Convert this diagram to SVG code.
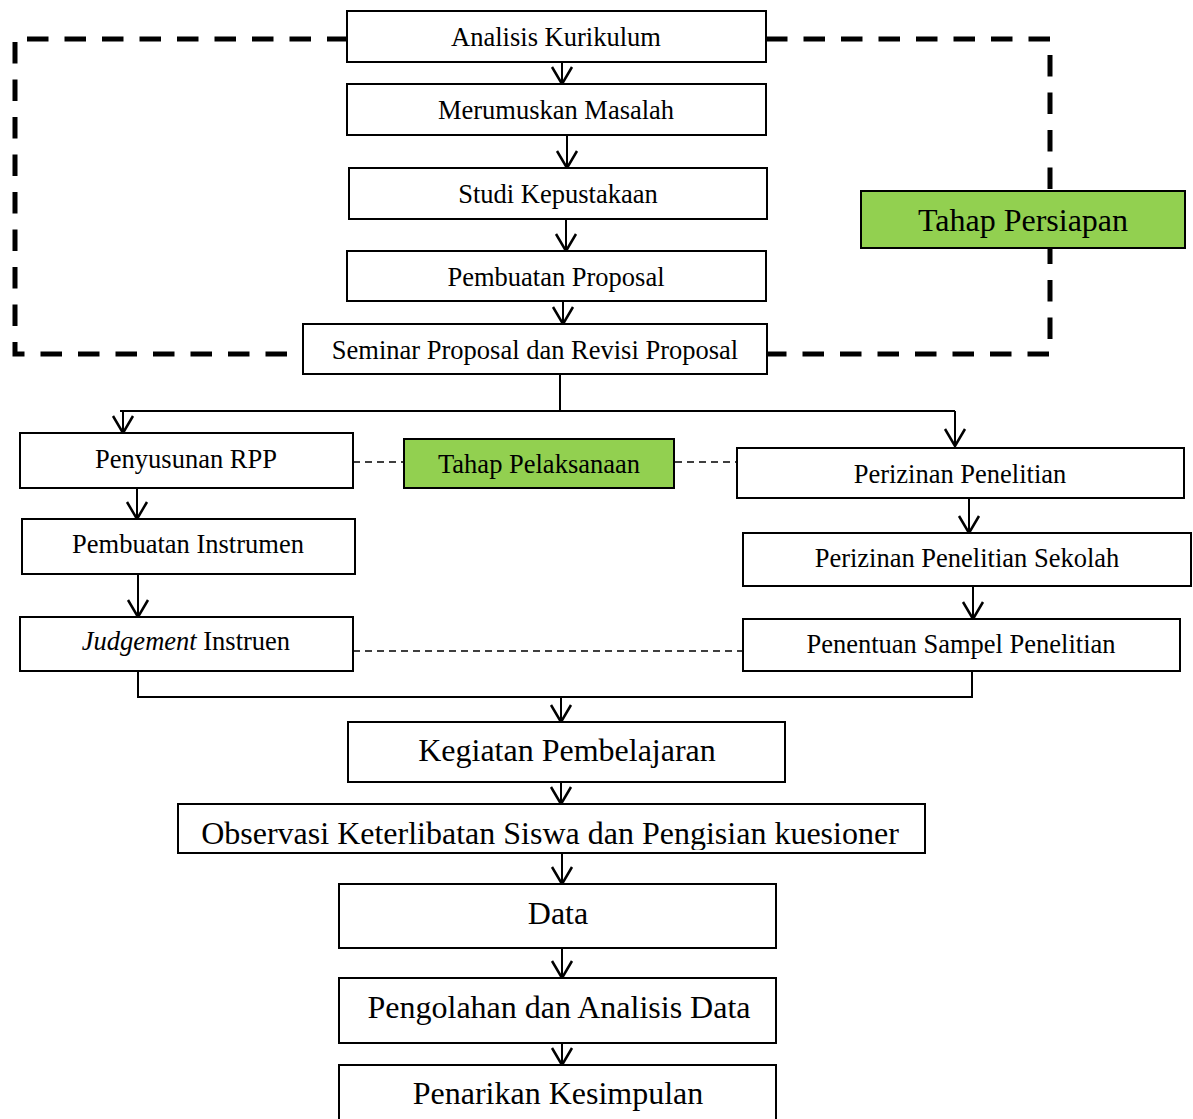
<svg xmlns="http://www.w3.org/2000/svg" width="1193" height="1119" viewBox="0 0 1193 1119">
<style>
.box{fill:#fff;stroke:#000;stroke-width:2}
.green{fill:#92D050;stroke:#000;stroke-width:2}
.t{font-family:"Liberation Serif","Times New Roman",serif;font-size:26.5px;fill:#000;text-anchor:middle}
.tb{font-family:"Liberation Serif","Times New Roman",serif;font-size:32px;fill:#000;text-anchor:middle}
.ln{fill:none;stroke:#000;stroke-width:2}
.arr{fill:none;stroke:#000;stroke-width:2;marker-end:url(#ah)}
.thick{fill:none;stroke:#000;stroke-width:5;stroke-dasharray:21.5 16}
.thin{fill:none;stroke:#000;stroke-width:1.6;stroke-dasharray:7 5}
</style>
<defs>
<marker id="ah" markerUnits="userSpaceOnUse" markerWidth="30" markerHeight="30" refX="0" refY="0" orient="auto" overflow="visible">
<path d="M-17,-10 L0,0 L-17,10" fill="none" stroke="#000" stroke-width="2.5"/>
</marker>
<clipPath id="obsclip"><rect x="178" y="804" width="747" height="46"/></clipPath>
</defs>
<g id="connectors">
<path class="thick" d="M27,39 H347"/>
<path class="thick" d="M15,42 V354 H303"/>
<path class="thick" d="M766,39 H1050 V354 H767"/>
<path class="arr" d="M562,62 V84"/>
<path class="arr" d="M567,135 V168"/>
<path class="arr" d="M566,219 V251"/>
<path class="arr" d="M563,301 V324"/>
<path class="ln" d="M560,375 V411"/>
<path class="ln" d="M120,411 H955"/>
<path class="arr" d="M123,411 V433"/>
<path class="arr" d="M955,411 V446"/>
<path class="arr" d="M137,488 V519"/>
<path class="arr" d="M138,574 V617"/>
<path class="arr" d="M969,498 V533"/>
<path class="arr" d="M973,586 V619"/>
<path class="ln" d="M138,671 V697 H972 V671"/>
<path class="arr" d="M561,697 V722"/>
<path class="arr" d="M561,782 V804"/>
<path class="arr" d="M562,853 V884"/>
<path class="arr" d="M562,948 V978"/>
<path class="arr" d="M562,1043 V1065"/>
<path class="thin" d="M353,462 H404"/>
<path class="thin" d="M675,462 H737"/>
<path class="thin" d="M353,651 H743"/>
</g>
<g id="n-analisis"><rect class="box" x="347" y="11" width="419" height="51"/><text class="t" x="556" y="46">Analisis Kurikulum</text></g>
<g id="n-merumuskan"><rect class="box" x="347" y="84" width="419" height="51"/><text class="t" x="556" y="119">Merumuskan Masalah</text></g>
<g id="n-studi"><rect class="box" x="349" y="168" width="418" height="51"/><text class="t" x="558" y="203">Studi Kepustakaan</text></g>
<g id="n-pembuatan-proposal"><rect class="box" x="347" y="251" width="419" height="50"/><text class="t" x="556" y="286">Pembuatan Proposal</text></g>
<g id="n-seminar"><rect class="box" x="303" y="324" width="464" height="50"/><text class="t" x="535" y="359">Seminar Proposal dan Revisi Proposal</text></g>
<g id="n-tahap-persiapan"><rect class="green" x="861" y="191" width="324" height="57"/><text class="tb" x="1023" y="231">Tahap Persiapan</text></g>
<g id="n-rpp"><rect class="box" x="20" y="433" width="333" height="55"/><text class="t" x="186" y="468">Penyusunan RPP</text></g>
<g id="n-instrumen"><rect class="box" x="22" y="519" width="333" height="55"/><text class="t" x="188" y="553">Pembuatan Instrumen</text></g>
<g id="n-judgement"><rect class="box" x="20" y="617" width="333" height="54"/><text class="t" x="186" y="650"><tspan font-style="italic">Judgement</tspan> Instruen</text></g>
<g id="n-tahap-pelaksanaan"><rect class="green" x="404" y="439" width="270" height="49"/><text class="t" x="539" y="473">Tahap Pelaksanaan</text></g>
<g id="n-perizinan"><rect class="box" x="737" y="448" width="447" height="50"/><text class="t" x="960" y="483">Perizinan Penelitian</text></g>
<g id="n-perizinan-sekolah"><rect class="box" x="743" y="533" width="448" height="53"/><text class="t" x="967" y="567">Perizinan Penelitian Sekolah</text></g>
<g id="n-sampel"><rect class="box" x="743" y="619" width="437" height="52"/><text class="t" x="961" y="653">Penentuan Sampel Penelitian</text></g>
<g id="n-kegiatan"><rect class="box" x="348" y="722" width="437" height="60"/><text class="tb" x="567" y="761">Kegiatan Pembelajaran</text></g>
<g id="n-observasi"><rect class="box" x="178" y="804" width="747" height="49"/><text class="tb" x="550" y="844" clip-path="url(#obsclip)">Observasi Keterlibatan Siswa dan Pengisian kuesioner</text></g>
<g id="n-data"><rect class="box" x="339" y="884" width="437" height="64"/><text class="tb" x="558" y="924">Data</text></g>
<g id="n-pengolahan"><rect class="box" x="339" y="978" width="437" height="65"/><text class="tb" x="559" y="1018">Pengolahan dan Analisis Data</text></g>
<g id="n-penarikan"><rect class="box" x="339" y="1065" width="437" height="70"/><text class="tb" x="558" y="1104">Penarikan Kesimpulan</text></g>
</svg>
